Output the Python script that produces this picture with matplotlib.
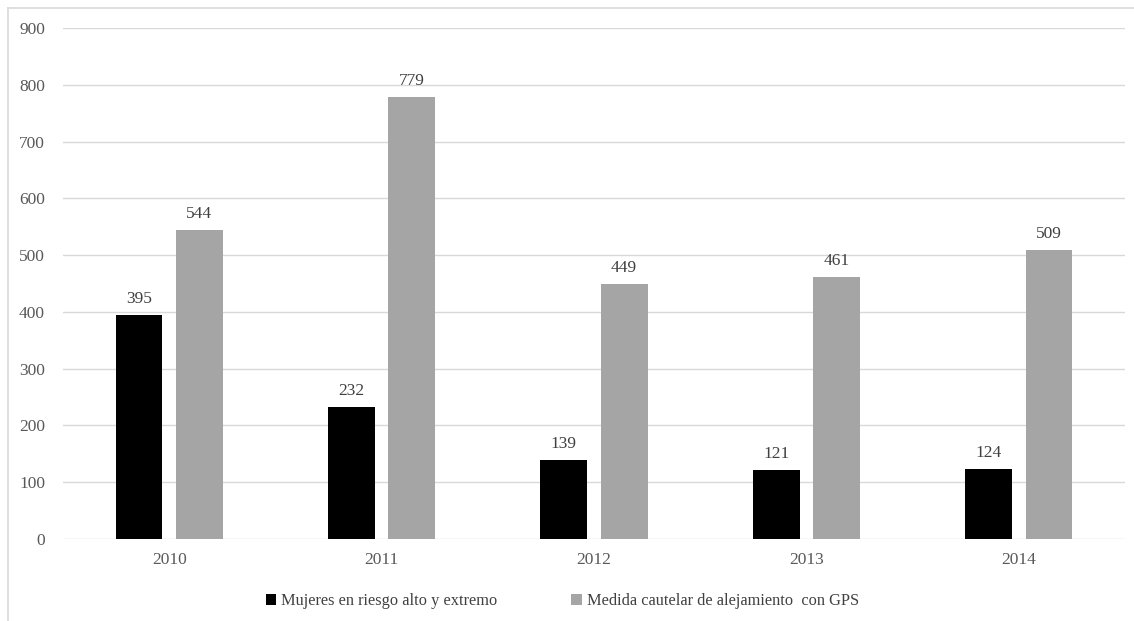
import numpy as np
from matplotlib import pyplot as plt
from matplotlib.lines import Line2D

years = ['2010', '2011', '2012', '2013', '2014']
riesgo = [395, 232, 139, 121, 124]
gps = [544, 779, 449, 461, 509]

plt.rcParams['font.family'] = ['Liberation Serif', 'DejaVu Serif']

fig = plt.figure(figsize=(11.34, 6.21), dpi=100)
ax = fig.add_axes([0.0556, 0.132, 0.9364, 0.823])

x = np.arange(len(years))
width = 0.22
offset = 0.142

b1 = ax.bar(x - offset, riesgo, width, color='black', label='Mujeres en riesgo alto y extremo', zorder=3)
b2 = ax.bar(x + offset, gps, width, color='#a5a5a5', label='Medida cautelar de alejamiento  con GPS', zorder=3)

for bars, vals in ((b1, riesgo), (b2, gps)):
    for rect, v in zip(bars, vals):
        ax.text(rect.get_x() + rect.get_width() / 2, v + 14, str(v),
                ha='center', va='bottom', fontsize=12.5, color='#404040')

ax.set_xlim(-0.5, len(years) - 0.5)
ax.set_ylim(0, 900)
ax.set_yticks(range(0, 901, 100))
ax.set_xticks(x)
ax.set_xticklabels(years)
ax.grid(axis='y', color='#d9d9d9', linewidth=1, zorder=0)
for s in ax.spines.values():
    s.set_visible(False)
ax.tick_params(axis='both', length=0, labelsize=12.5, labelcolor='#595959')
ax.tick_params(axis='x', pad=9)
ax.tick_params(axis='y', pad=13)

ax.legend(loc='center', bbox_to_anchor=(0.47, -0.122), ncol=2, frameon=False,
          fontsize=11.8, handlelength=0.65, handleheight=0.65, handletextpad=0.3,
          columnspacing=4.5, labelcolor='#404040')

# outer chart frame (only left and top visible)
fig.add_artist(Line2D([8 / 1134, 8 / 1134], [0, 1 - 8 / 621], color='#d9d9d9', lw=1.2))
fig.add_artist(Line2D([8 / 1134, 1], [1 - 8 / 621, 1 - 8 / 621], color='#d9d9d9', lw=1.2))

fig.savefig('out.png', dpi=100)
